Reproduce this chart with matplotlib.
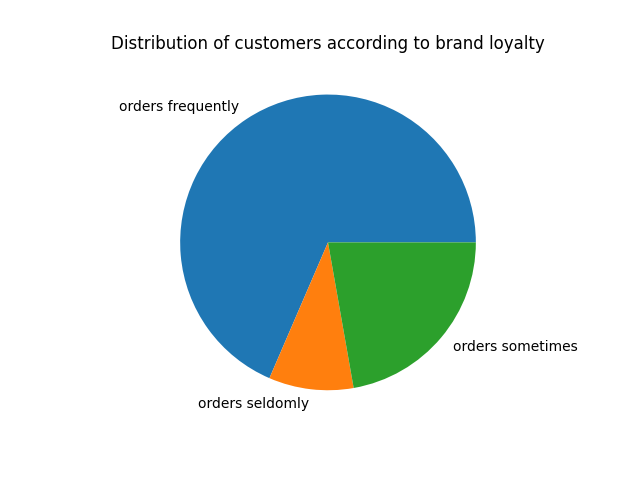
import matplotlib
matplotlib.use('Agg')
import matplotlib.pyplot as plt

# 品牌忠诚度分布数据
labels = ['orders frequently', 'orders seldomly', 'orders sometimes']
counts = [74, 10, 24]

fig, ax = plt.subplots(figsize=(6.4, 4.8), dpi=100)
ax.pie(counts, labels=labels)
ax.set_title('Distribution of customers according to brand loyalty')

fig.savefig('out.png')
